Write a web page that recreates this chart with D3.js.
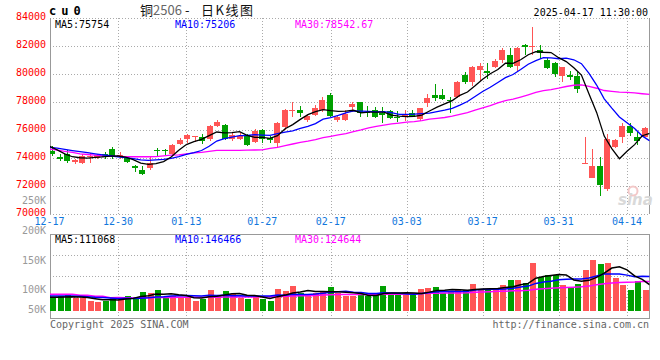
<!DOCTYPE html>
<html><head><meta charset="utf-8">
<script src="https://cdn.jsdelivr.net/npm/d3@7"></script>
<style>
body{margin:0;background:#fff}
svg{display:block}
text{font-family:"DejaVu Sans Mono","Liberation Mono",monospace;font-size:10px}
</style>
</head><body><svg id="c" width="660" height="360"></svg>
<script>
const dates = ["12-17","12-18","12-19","12-20","12-23","12-24","12-25","12-26","12-27","12-30",
"12-31","01-02","01-03","01-06","01-07","01-08","01-09","01-10","01-13","01-14",
"01-15","01-16","01-17","01-20","01-21","01-22","01-23","01-24","01-27","02-05",
"02-06","02-07","02-10","02-11","02-12","02-13","02-14","02-17","02-18","02-19",
"02-20","02-21","02-24","02-25","02-26","02-27","02-28","03-03","03-04","03-05",
"03-06","03-07","03-10","03-11","03-12","03-13","03-14","03-17","03-18","03-19",
"03-20","03-21","03-24","03-25","03-26","03-27","03-28","03-31","04-01","04-02",
"04-03","04-07","04-08","04-09","04-10","04-11","04-14","04-15","04-16","04-17"];

const opens = [74520,74070,74290,73680,73670,74070,74000,74260,74670,74100,
73980,73410,73140,73260,74570,74550,74290,75000,75380,75530,
75480,75330,76290,76360,75330,75380,75620,75140,76000,75430,
75100,76240,77360,77430,76710,77070,77430,78500,76710,76710,
77670,78020,77290,77430,77240,77360,76930,76980,77190,76780,
77950,78500,78500,78170,78380,79930,79450,80290,80200,80520,
81000,81360,80570,82070,81950,81710,81000,80760,79860,79950,
79860,73600,72600,73430,71760,74760,75480,76290,75480,75520];

const highs = [74850,74300,74570,73950,74300,74330,74290,74400,74760,74450,
74100,73520,73450,74140,74700,74640,75000,75400,75710,75600,
75710,76360,76710,76430,75860,75760,75690,76050,76090,75570,
76570,77500,78020,77710,77070,77790,78380,78670,77070,77430,
78020,78020,77710,77620,77620,77430,77360,77430,77430,77600,
78570,79290,78930,78380,79520,80120,80570,80810,80810,81070,
81830,81830,81950,82140,83380,82070,81140,80880,80520,80210,
80120,75520,74640,74100,75710,75360,76480,76480,75900,76240];

const lows = [74150,73800,73620,73590,73550,73670,73930,73930,73930,73930,
73620,73020,72770,73120,74140,74230,74240,74950,75050,75140,
74980,75240,76240,75290,75210,75290,74860,75050,75100,75100,
74810,76000,76910,76910,76590,77000,77310,76910,76590,76670,
77310,76910,76910,76840,76520,76760,76590,76670,76910,76670,
77620,78100,78140,77240,78310,79290,79140,79500,79640,80450,
80810,80450,80170,81360,81360,81050,80360,79760,79450,79570,
78640,73600,72600,71310,71640,74690,75050,75570,74950,75480];

const closes = [74290,73960,73810,73860,74170,74140,74210,74050,74070,74240,
73740,73290,72840,73620,74480,74480,74930,75290,75620,75560,
75240,76290,76570,75330,75640,75570,74950,75900,75330,75290,
76480,77430,77400,77190,77000,77570,78140,77000,76910,77140,
77860,77240,77240,76910,77100,76830,76900,77070,77000,77550,
78260,78310,78240,78120,79450,79450,80520,80570,80100,80950,
81710,80500,81830,81900,82020,81520,80400,79980,80520,79800,
78910,73620,73430,72070,75330,75290,76290,75800,75240,76150];

const volumes = [56500,62200,66400,56500,56500,42400,38200,42400,56500,52300,
63600,52300,80600,76300,89000,56500,62200,59400,59400,42400,
52300,89000,69200,84800,72100,56500,52300,62200,52300,42400,
94700,84800,106000,74900,72100,74900,84800,101800,74900,62200,
62200,69200,62200,72100,106000,69200,69200,69200,69200,94700,
97500,101800,77700,83400,89000,89000,114000,89000,89000,93300,
110200,131000,131000,118700,203500,144200,153000,152600,110200,97500,
114500,174000,216000,199000,205000,139900,110200,89000,127200,89000];

const ma5Lead  = [74840,74580,74300,74090];
const ma10Lead = [74760,74700,74620,74530,74450,74380,74300,74230,74160];
const ma30Lead = [74640,74560,74480,74400,74300,74250,74200,74150,74130,74110,
74100,74090,74090,74090,74100,74150,74200,74230,74300,74360,
74400,74480,74540,74540,74550,74550,74560,74570,74580];
const vma5Lead  = [58000,58000,59000,60000];
const vma10Lead = [63000,63000,64000,63000,62000,60000,58000,57000,55000];
const vma30Lead = [71200,71200,70700,70700,66400,66400,62200,62200,56500,57000,
56000,55000,56000,56500,57000,57000,57500,58000,58000,58000,
58000,58500,58500,59000,59000,59000,59500,59500,60000];

const priceTicks = [84000,82000,80000,78000,76000,74000,72000,70000];
const volTicks = [250000,200000,150000,100000,50000];
const volTickLabels = ["250K","200K","150K","100K","50K"];
const dateTicks = ["12-17","12-30","01-13","01-27","02-17","03-03","03-17","03-31","04-14"];
const priceLegend = ["MA5:75754","MA10:75206","MA30:78542.67"];
const volLegend = ["MA5:111068","MA10:146466","MA30:124644"];
const maColors = ["#000000","#0000ff","#ff00ff"];
const symbol = "cu0";
const titleParts = ["铜","2506","-","日K线图"];
const stamp = "2025-04-17 11:30:00";

const UP = "#ff5555", DOWN = "#00a000", GRID = "#aaaaaa", BORDER = "#999999";

function movingAvg(vals, n, lead){
  return vals.map((v,i)=> i < n-1 ? lead[i] : d3.mean(vals.slice(i-n+1,i+1)));
}

const svg = d3.select("#c");
const L = 50, R = 649.5, PT = 18, PB = 214, VT = 234, VB = 318;

const xBand = d3.scaleBand().domain(dates).range([49.2, 649.2]);
const xPt = d3.scalePoint().domain(dates).range([49.6, 649.8]);
const y = d3.scaleLinear().domain([70000, 84000]).range([PB, PT]);
const yv = d3.scaleLinear().domain([0, 326000]).range([311, VT]);
const yvLabel = d3.scaleLinear().domain([50000,100000,250000]).range([309.7,289.7,200.7]);

const defs = svg.append("defs");
defs.append("clipPath").attr("id","cp").append("rect").attr("x",L).attr("y",PT).attr("width",R-L).attr("height",PB-PT);
defs.append("clipPath").attr("id","cv").append("rect").attr("x",L).attr("y",VT).attr("width",R-L).attr("height",VB-VT);

const cx = d => Math.round(xBand(d) + xBand.bandwidth()/2 - 0.5) + 0.5;

// ---------- price panel grid ----------
const g = svg.append("g");
g.selectAll(".hg").data(priceTicks).join("line")
  .attr("x1",L).attr("x2",R).attr("y1",d=>Math.round(y(d))+0.5).attr("y2",d=>Math.round(y(d))+0.5)
  .attr("stroke",GRID).attr("stroke-dasharray","1,2");
g.selectAll(".vg").data(dateTicks.slice(1)).join("line")
  .attr("x1",d=>Math.round(xPt(d))+0.5).attr("x2",d=>Math.round(xPt(d))+0.5)
  .attr("y1",PT).attr("y2",PB).attr("stroke",GRID).attr("stroke-dasharray","1,2");
g.append("line").attr("x1",L+0.5).attr("x2",L+0.5).attr("y1",PT).attr("y2",PB).attr("stroke",BORDER);
g.append("line").attr("x1",R).attr("x2",R).attr("y1",PT).attr("y2",PB).attr("stroke",BORDER);

// ---------- volume panel grid ----------
const vg = svg.append("g");
const vGridYs = d3.range(1,4).map(k => VT + (VB-VT)*k/4);
vg.selectAll(".vh").data(vGridYs).join("line")
  .attr("x1",L).attr("x2",R).attr("y1",d=>Math.round(d)+0.5).attr("y2",d=>Math.round(d)+0.5)
  .attr("stroke",GRID).attr("stroke-dasharray","1,2");
vg.selectAll(".vv").data(dateTicks.slice(1)).join("line")
  .attr("x1",d=>Math.round(xPt(d))+0.5).attr("x2",d=>Math.round(xPt(d))+0.5)
  .attr("y1",VT).attr("y2",VB).attr("stroke",GRID).attr("stroke-dasharray","1,2");
vg.append("rect").attr("x",L+0.5).attr("y",VT+0.5).attr("width",R-L-0.5).attr("height",VB-VT)
  .attr("fill","none").attr("stroke",BORDER);

// ---------- candles ----------
const candles = svg.append("g").attr("clip-path","url(#cp)");
const data = dates.map((d,i)=>({d,o:opens[i],h:highs[i],l:lows[i],c:closes[i],v:volumes[i]}));
const col = k => k.c >= k.o ? UP : DOWN;
candles.selectAll(".wick").data(data).join("line")
  .attr("x1",k=>cx(k.d)).attr("x2",k=>cx(k.d))
  .attr("y1",k=>y(k.h)).attr("y2",k=>y(k.l))
  .attr("stroke",col).attr("stroke-width",1).attr("shape-rendering","crispEdges");
candles.selectAll(".body").data(data).join("rect")
  .attr("x",k=>cx(k.d)-3.5).attr("width",6)
  .attr("y",k=>y(Math.max(k.o,k.c)))
  .attr("height",k=>Math.max(1, Math.abs(y(k.o)-y(k.c))))
  .attr("fill",col).attr("shape-rendering","crispEdges");

// ---------- price MAs ----------
const pm = [movingAvg(closes,5,ma5Lead), movingAvg(closes,10,ma10Lead), movingAvg(closes,30,ma30Lead)];
const pLine = d3.line().x((v,i)=>xPt(dates[i])).y(v=>y(v));
const pmG = svg.append("g").attr("clip-path","url(#cp)");
pm.slice().reverse().forEach((s,j)=>{
  pmG.append("path").attr("d",pLine(s)).attr("fill","none")
    .attr("stroke",maColors[2-j]).attr("stroke-width",1.3);
});

// ---------- volume bars ----------
const vb = svg.append("g").attr("clip-path","url(#cv)");
vb.selectAll("rect").data(data).join("rect")
  .attr("x",k=>cx(k.d)-3).attr("width",6)
  .attr("y",k=>yv(k.v)).attr("height",k=>yv(0)-yv(k.v))
  .attr("fill",col).attr("shape-rendering","crispEdges");

const vm = [movingAvg(volumes,5,vma5Lead), movingAvg(volumes,10,vma10Lead), movingAvg(volumes,30,vma30Lead)];
const vLine = d3.line().x((v,i)=>xPt(dates[i])).y(v=>yv(v));
const vmG = svg.append("g").attr("clip-path","url(#cv)");
vm.slice().reverse().forEach((s,j)=>{
  vmG.append("path").attr("d",vLine(s)).attr("fill","none")
    .attr("stroke",maColors[2-j]).attr("stroke-width",1.5);
});

// ---------- watermark ----------
svg.append("circle").attr("cx",633).attr("cy",191).attr("r",4.5).attr("fill","none").attr("stroke","#f3c8c8").attr("stroke-width",2);
svg.append("text").attr("x",618).attr("y",205).text("sina")
  .style("font-family","DejaVu Sans").style("font-size","15px").style("font-style","italic").style("font-weight","bold")
  .attr("fill","#d9d9d9");

// ---------- texts ----------
svg.selectAll(".pt").data(priceTicks).join("text")
  .attr("x",46).attr("y",d=>y(d)-1.5).attr("dy","0.35em").attr("text-anchor","end")
  .attr("fill","#ff0000").text(d=>d);
svg.selectAll(".vt").data(volTicks).join("text")
  .attr("x",46).attr("y",d=>yvLabel(d)).attr("dy","0.35em").attr("text-anchor","end")
  .attr("fill","#999999").text((d,i)=>volTickLabels[i]);
svg.selectAll(".dt").data(dateTicks).join("text")
  .attr("x",d=>xPt(d)).attr("y",221).attr("dy","0.35em").attr("text-anchor","middle")
  .attr("fill","#1177dd").text(d=>d);

const legX = [55,175,295];
svg.selectAll(".pl").data(priceLegend).join("text")
  .attr("x",(d,i)=>legX[i]).attr("y",24).attr("dy","0.35em").attr("fill",(d,i)=>maColors[i]).text(d=>d);
svg.selectAll(".vl").data(volLegend).join("text")
  .attr("x",(d,i)=>legX[i]).attr("y",239).attr("dy","0.35em").attr("fill",(d,i)=>maColors[i]).text(d=>d);

svg.append("text").attr("x",49).attr("y",15).text(symbol)
  .style("font-size","12px").style("font-weight","bold").style("letter-spacing","5px").attr("fill","#000");
const titleX = [140,153,185,201], titleFill = ["#111","#666","#111","#111"];
svg.selectAll(".tt").data(titleParts).join("text")
  .attr("x",(d,i)=>titleX[i]).attr("y",14.5).text(d=>d)
  .style("font-family","'Noto Sans CJK SC',sans-serif").style("font-size","13px")
  .style("letter-spacing",(d,i)=>i===3?"1.5px":"0px")
  .attr("fill",(d,i)=>titleFill[i]);
svg.append("text").attr("x",648).attr("y",12).attr("dy","0.35em").attr("text-anchor","end").text(stamp).attr("fill","#000");
svg.append("text").attr("x",50).attr("y",324).attr("dy","0.35em").text("Copyright 2025 SINA.COM").attr("fill","#666");
svg.append("text").attr("x",649).attr("y",324).attr("dy","0.35em").attr("text-anchor","end").text("http://finance.sina.com.cn").attr("fill","#666");
</script>
</body></html>
